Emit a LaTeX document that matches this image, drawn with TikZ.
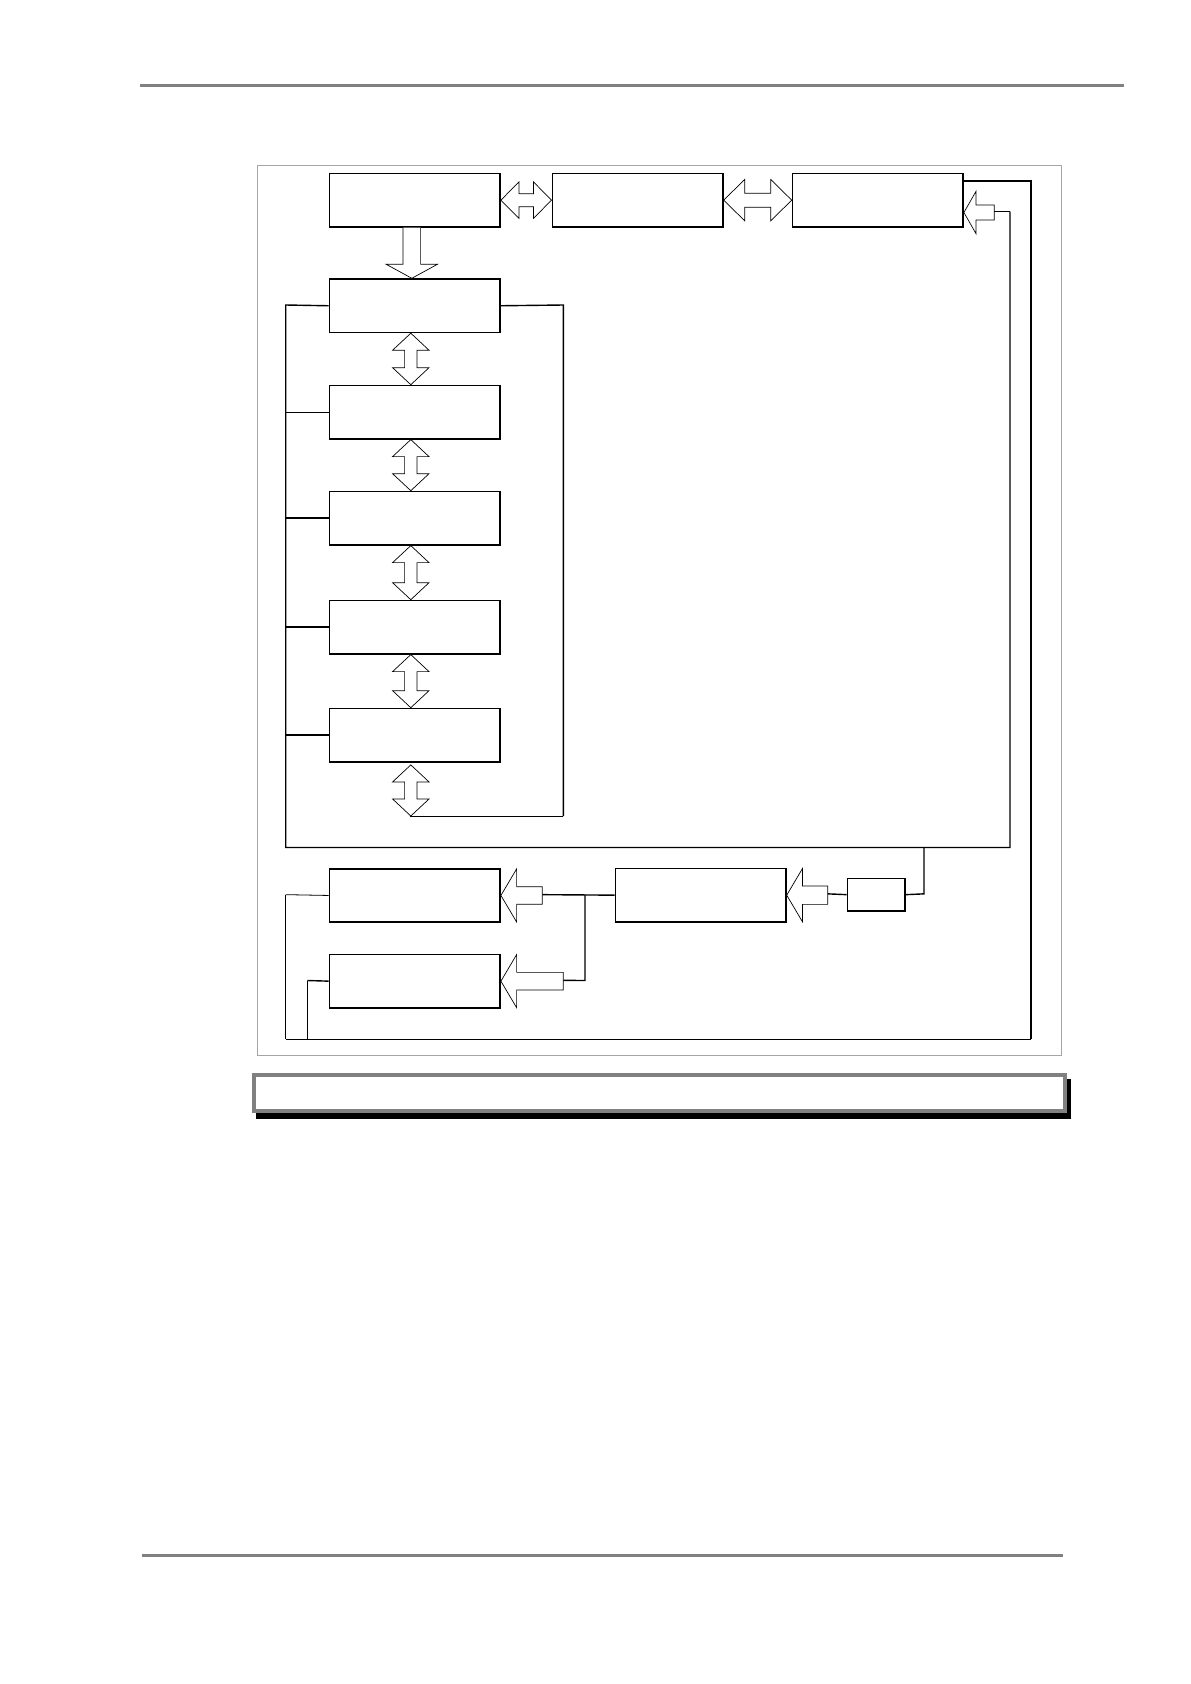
\documentclass[tikz,border=0pt]{standalone}
\usetikzlibrary{calc}
\newcommand\hdbl[5]{%
\draw[barrow] let \p1=(#1), \p2=(#2) in
 (\x1,\y1) -- (\x1+#3,\y1+#4) -- (\x1+#3,\y1+#5) -- (\x2-#3,\y1+#5) -- (\x2-#3,\y1+#4) -- (\x2,\y1)
 -- (\x2-#3,\y1-#4) -- (\x2-#3,\y1-#5) -- (\x1+#3,\y1-#5) -- (\x1+#3,\y1-#4) -- cycle;}
\newcommand\vdbl[5]{%
\draw[barrow] let \p1=(#1), \p2=(#2) in
 (\x1,\y1) -- (\x1+#4,\y1-#3) -- (\x1+#5,\y1-#3) -- (\x1+#5,\y2+#3) -- (\x1+#4,\y2+#3) -- (\x1,\y2)
 -- (\x1-#4,\y2+#3) -- (\x1-#5,\y2+#3) -- (\x1-#5,\y1-#3) -- (\x1-#4,\y1-#3) -- cycle;}
\newcommand\larrow[5]{%
\draw[barrow] let \p1=(#1), \p2=(#2) in
 (\x1,\y1) -- (\x1+#3,\y1+#4) -- (\x1+#3,\y1+#5) -- (\x2,\y1+#5) -- (\x2,\y1-#5)
 -- (\x1+#3,\y1-#5) -- (\x1+#3,\y1-#4) -- cycle;}
\newcommand\darrow[5]{%
\draw[barrow] let \p1=(#1), \p2=(#2) in
 (\x1-#5,\y1) -- (\x1-#5,\y2+#3) -- (\x1-#4,\y2+#3) -- (\x1,\y2) -- (\x1+#4,\y2+#3)
 -- (\x1+#5,\y2+#3) -- (\x1+#5,\y1);}
\begin{document}
\begin{tikzpicture}[x=1pt,y=-1pt,
  box/.style={draw,line width=1.6pt,minimum width=170.6pt,minimum height=53.3pt,inner sep=0pt,anchor=north west},
  barrow/.style={draw=black,line width=0.7pt,fill=white,line join=miter},
  thick line/.style={line width=1.4pt},
  thin line/.style={line width=0.8pt}]
\useasboundingbox (0,0) rectangle (1191,1684);
% page rules
\draw[gray,line width=2.7pt] (140.3,85.3) -- (1124,85.3);
\draw[gray,line width=2.7pt] (141.7,1555.3) -- (1063.2,1555.3);
% frame
\draw[gray!70,line width=1pt] (257.3,165.7) rectangle (1061,1055);
% boxes
\node[box] (b1) at (328.7,172.7) {};
\node[box] (b2) at (551.5,172.7) {};
\node[box] (b3) at (791.7,172.7) {};
\node[box] (b4) at (328.7,278.3) {};
\node[box] (b5) at (328.7,384.7) {};
\node[box] (b6) at (328.7,490.7) {};
\node[box] (b7) at (328.7,599.7) {};
\node[box] (b8) at (328.7,707.7) {};
\node[box] (ba) at (328.7,868) {};
\node[box] (bb) at (328.7,953.7) {};
\node[box] (bc) at (614.5,867.7) {};
\node[box,minimum width=57.6pt,minimum height=32.3pt] (bs) at (846.7,877.7) {};
% coordinates
\coordinate (t3) at (994.3,211.7);
\coordinate (r1) at (1010,211.7);
\coordinate (r2) at (1010,847.5);
\coordinate (l1) at (285.7,305);
\coordinate (l2) at (285.7,847.5);
\coordinate (rr1) at (563.3,305);
\coordinate (rr2) at (563.3,816);
\coordinate (e8) at (410,816);
\coordinate (o1) at (1031,181);
\coordinate (o2) at (1031,1039.3);
\coordinate (o3) at (285.7,1039.3);
\coordinate (o4) at (285.7,894.65);
\coordinate (p1) at (307.3,980.5);
\coordinate (p2) at (307.3,1039.3);
\coordinate (v1) at (924,847.5);
\coordinate (v2) at (924,893.85);
\coordinate (tc) at (827.7,893.85);
\coordinate (ta) at (542.3,894.65);
\coordinate (ja) at (585,894.65);
\coordinate (jb) at (585,980.5);
\coordinate (tb) at (563.3,980.35);
% top row arrows
\hdbl{b1.east}{b2.west}{18pt}{18.2pt}{6.5pt}
\hdbl{b2.east}{b3.west}{21pt}{20.7pt}{7pt}
\darrow{$(b1.south)+(-3,0)$}{$(b4.north)+(-3,0)$}{14pt}{25.6pt}{8.8pt}
% column arrows
\vdbl{$(b4.south)+(-4,0)$}{$(b5.north)+(-4,0)$}{17pt}{18.2pt}{6.2pt}
\vdbl{$(b5.south)+(-4,0)$}{$(b6.north)+(-4,0)$}{17pt}{18.2pt}{6.2pt}
\vdbl{$(b6.south)+(-4,0)$}{$(b7.north)+(-4,0)$}{17pt}{18.2pt}{6.2pt}
\vdbl{$(b7.south)+(-4,0)$}{$(b8.north)+(-4,0)$}{17pt}{18.2pt}{6.2pt}
\vdbl{$(b8.south)+(-4,2.3)$}{e8}{17pt}{18.2pt}{6.2pt}
% loop lines
\draw[thick line] (b4.west) -- (l1) -- (l2) -- (r2) -- (r1);
\draw[thick line] (b4.east) -- (rr1) -- (rr2);
\draw[thin line] (rr2) -- (e8);
\draw[thin line] (b5.west) -- (b5.west -| l1);
\draw[thick line] (b6.west) -- (b6.west -| l1);
\draw[thick line] (b7.west) -- (b7.west -| l1);
\draw[thick line] (b8.west) -- (b8.west -| l1);
% right side
\larrow{$(b3.east)+(0,12.35)$}{t3}{12pt}{21pt}{7.5pt}
\draw[thick line] (t3) -- (r1);
\draw[thick line] ($(b3.north east)+(0,8.3)$) -- (o1) -- (o2);
\draw[thin line] (o2) -- (o3);
\draw[thick line] (o3) -- (o4);
\draw[thin line] (o4) -- (ba.west);
\draw[thick line] (bb.west) -- (p1);
\draw[thin line] (p1) -- (p2);
% bottom group
\draw[thick line] (v1) -- (v2) -- (bs.east);
\draw[thick line] (bs.west) -- (tc);
\larrow{bc.east}{tc}{15.7pt}{26.5pt}{9.2pt}
\larrow{ba.east}{ta}{15.7pt}{26.5pt}{8.8pt}
\larrow{bb.east}{tb}{15.7pt}{26.5pt}{8.8pt}
\draw[thick line] (ta) -- (bc.west);
\draw[thick line] (ja) -- (jb) -- (tb);
% caption box
\fill[black] (256,1079.3) rectangle (1070.7,1119.3);
\draw[gray,line width=4pt,fill=white] (254,1075.3) rectangle (1064.7,1111.3);
\end{tikzpicture}
\end{document}
